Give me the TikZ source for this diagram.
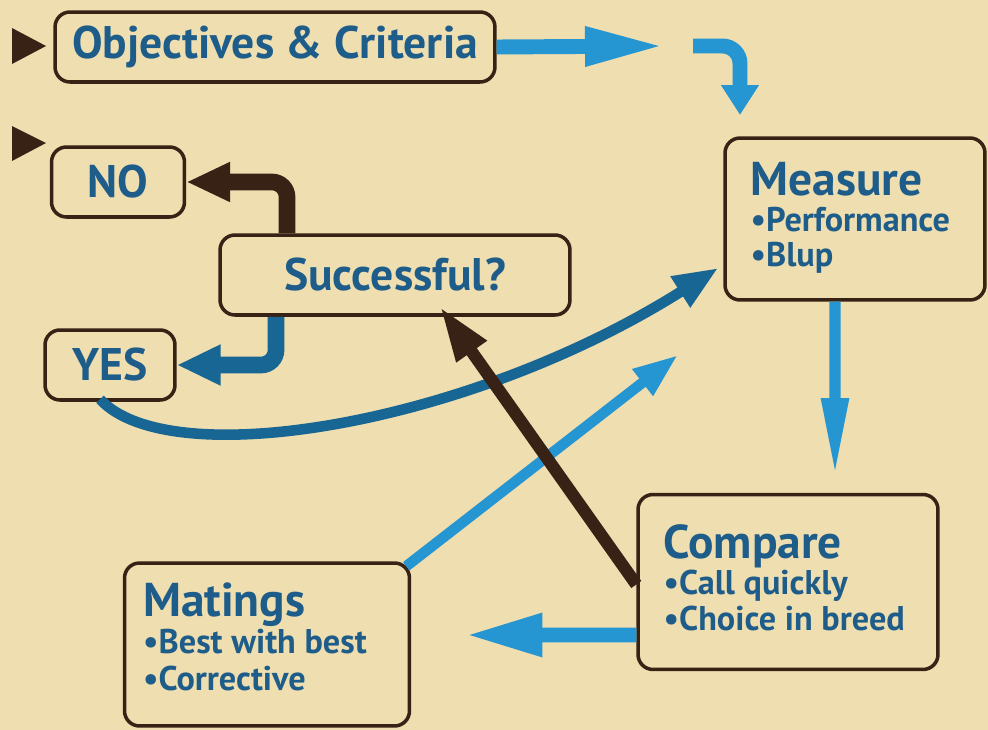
\documentclass[tikz,border=0pt]{standalone}
\usepackage{fontspec}
\setmainfont{PT Sans}
\usetikzlibrary{arrows.meta,positioning,calc}
\definecolor{Parchment}{RGB}{238,222,176}
\definecolor{InkBrown}{RGB}{56,34,22}
\definecolor{DeepBlue}{RGB}{30,92,138}
\definecolor{SkyBlue}{RGB}{38,150,210}
\definecolor{SeaBlue}{RGB}{24,102,148}
\tikzset{
  panel/.style={draw=InkBrown,line width=2pt,rounded corners=0.3cm,inner sep=0pt,
    text=DeepBlue},
  bigtext/.style={font=\bfseries\fontsize{26}{28}\selectfont},
  boxtitle/.style={font=\bfseries\fontsize{27}{29}\selectfont,text=DeepBlue,
    anchor=base west,inner sep=0pt},
  bullet/.style={font=\bfseries\fontsize{19.5}{22}\selectfont,text=DeepBlue,
    anchor=base west,inner sep=0pt},
  skyflow/.style={SkyBlue,line width=8.5pt},
  brownflow/.style={InkBrown,line width=9.5pt,
    -{Triangle[length=0.88cm,width=0.74cm]}},
  seaflow/.style={SeaBlue,line width=9.5pt,
    -{Triangle[length=0.88cm,width=0.76cm]}}
}

\begin{document}
\begin{tikzpicture}[x=0.02cm,y=-0.02cm]
  \clip (0,0) rectangle (988,730);
  \fill[Parchment] (0,0) rectangle (988,730);

  % start markers
  \fill[InkBrown] (12,28) -- (46,46) -- (12,64) -- cycle;
  \fill[InkBrown] (12,126) -- (46,143) -- (12,161) -- cycle;

  % boxes
  \node[panel,bigtext,minimum width=8.8cm,minimum height=1.4cm] (obj) at (275,47)
    {Objectives \& Criteria};
  \node[panel,bigtext,minimum width=2.66cm,minimum height=1.4cm] (no) at (118,182)
    {NO\hspace{0.2cm}};
  \node[panel,bigtext,minimum width=7cm,minimum height=1.6cm] (succ) at (395,275)
    {Successful?};
  \node[panel,bigtext,minimum width=2.6cm,minimum height=1.4cm] (yes) at (110,365) {YES};
  \node[panel,minimum width=5.2cm,minimum height=3.24cm] (measure) at (855,219) {};
  \node[panel,minimum width=6cm,minimum height=3.5cm] (compare) at (788,582) {};
  \node[panel,minimum width=5.7cm,minimum height=3.26cm] (matings) at (267,644.5) {};

  \node[boxtitle] at ([xshift=0.54cm,yshift=-1.18cm]measure.north west) {Measure};
  \node[bullet] at ([xshift=0.54cm,yshift=-1.9cm]measure.north west) {•Performance};
  \node[bullet] at ([xshift=0.54cm,yshift=-2.6cm]measure.north west) {•Blup};

  \node[boxtitle] at ([xshift=0.54cm,yshift=-1.32cm]compare.north west) {Compare};
  \node[bullet] at ([xshift=0.54cm,yshift=-2.04cm]compare.north west) {•Call quickly};
  \node[bullet] at ([xshift=0.54cm,yshift=-2.76cm]compare.north west) {•Choice in breed};

  \node[boxtitle] at ([xshift=0.4cm,yshift=-1.1cm]matings.north west) {Matings};
  \node[bullet] at ([xshift=0.4cm,yshift=-1.84cm]matings.north west) {•Best with best};
  \node[bullet] at ([xshift=0.4cm,yshift=-2.58cm]matings.north west) {•Corrective};

  % loose arrow ends
  \coordinate (gap) at (665,46);
  \coordinate (turn) at (693,46);
  \coordinate (drop) at (740,115);
  \coordinate (cmptip) at (835,478);
  \coordinate (mattip) at (465,635);
  \coordinate (diagtip) at (678,355);

  % connectors
  \draw[skyflow,-{Triangle[length=1.6cm,width=0.72cm]}] (obj.east) -- (gap);
  \draw[skyflow,rounded corners=0.35cm,-{Triangle[length=0.6cm,width=0.72cm]}]
    (turn) -| (drop);
  \draw[skyflow,line width=6.5pt,-{Triangle[length=1.6cm,width=0.5cm]}]
    ([xshift=-0.4cm]measure.south) -- (cmptip);
  \draw[skyflow,-{Triangle[length=1.55cm,width=0.8cm]}]
    ([yshift=-1.06cm]compare.west) -- (mattip);
  \draw[skyflow,line width=6pt,-{Triangle[length=0.9cm,width=0.62cm]}]
    ([xshift=-0.1cm,yshift=-0.1cm]matings.north east) -- (diagtip);
  \draw[brownflow,rounded corners=0.3cm] ([xshift=-2.16cm]succ.north) |- (no.east);
  \draw[seaflow,rounded corners=0.3cm] ([xshift=-2.38cm]succ.south) |- (yes.east);
  \draw[seaflow,line width=6pt,-{Triangle[length=0.9cm,width=0.68cm]}]
    ([xshift=-0.2cm,yshift=0.05cm]yes.south) .. controls (170,475) and (470,425)
    .. ([xshift=-0.1cm,yshift=-0.98cm]measure.west);
  % brown feedback line goes over the others
  \draw[brownflow,line width=7pt,-{Triangle[length=1.1cm,width=0.68cm]}]
    ([yshift=-0.05cm]compare.west) -- ([xshift=0.9cm,yshift=0.2cm]succ.south);
\end{tikzpicture}
\end{document}
